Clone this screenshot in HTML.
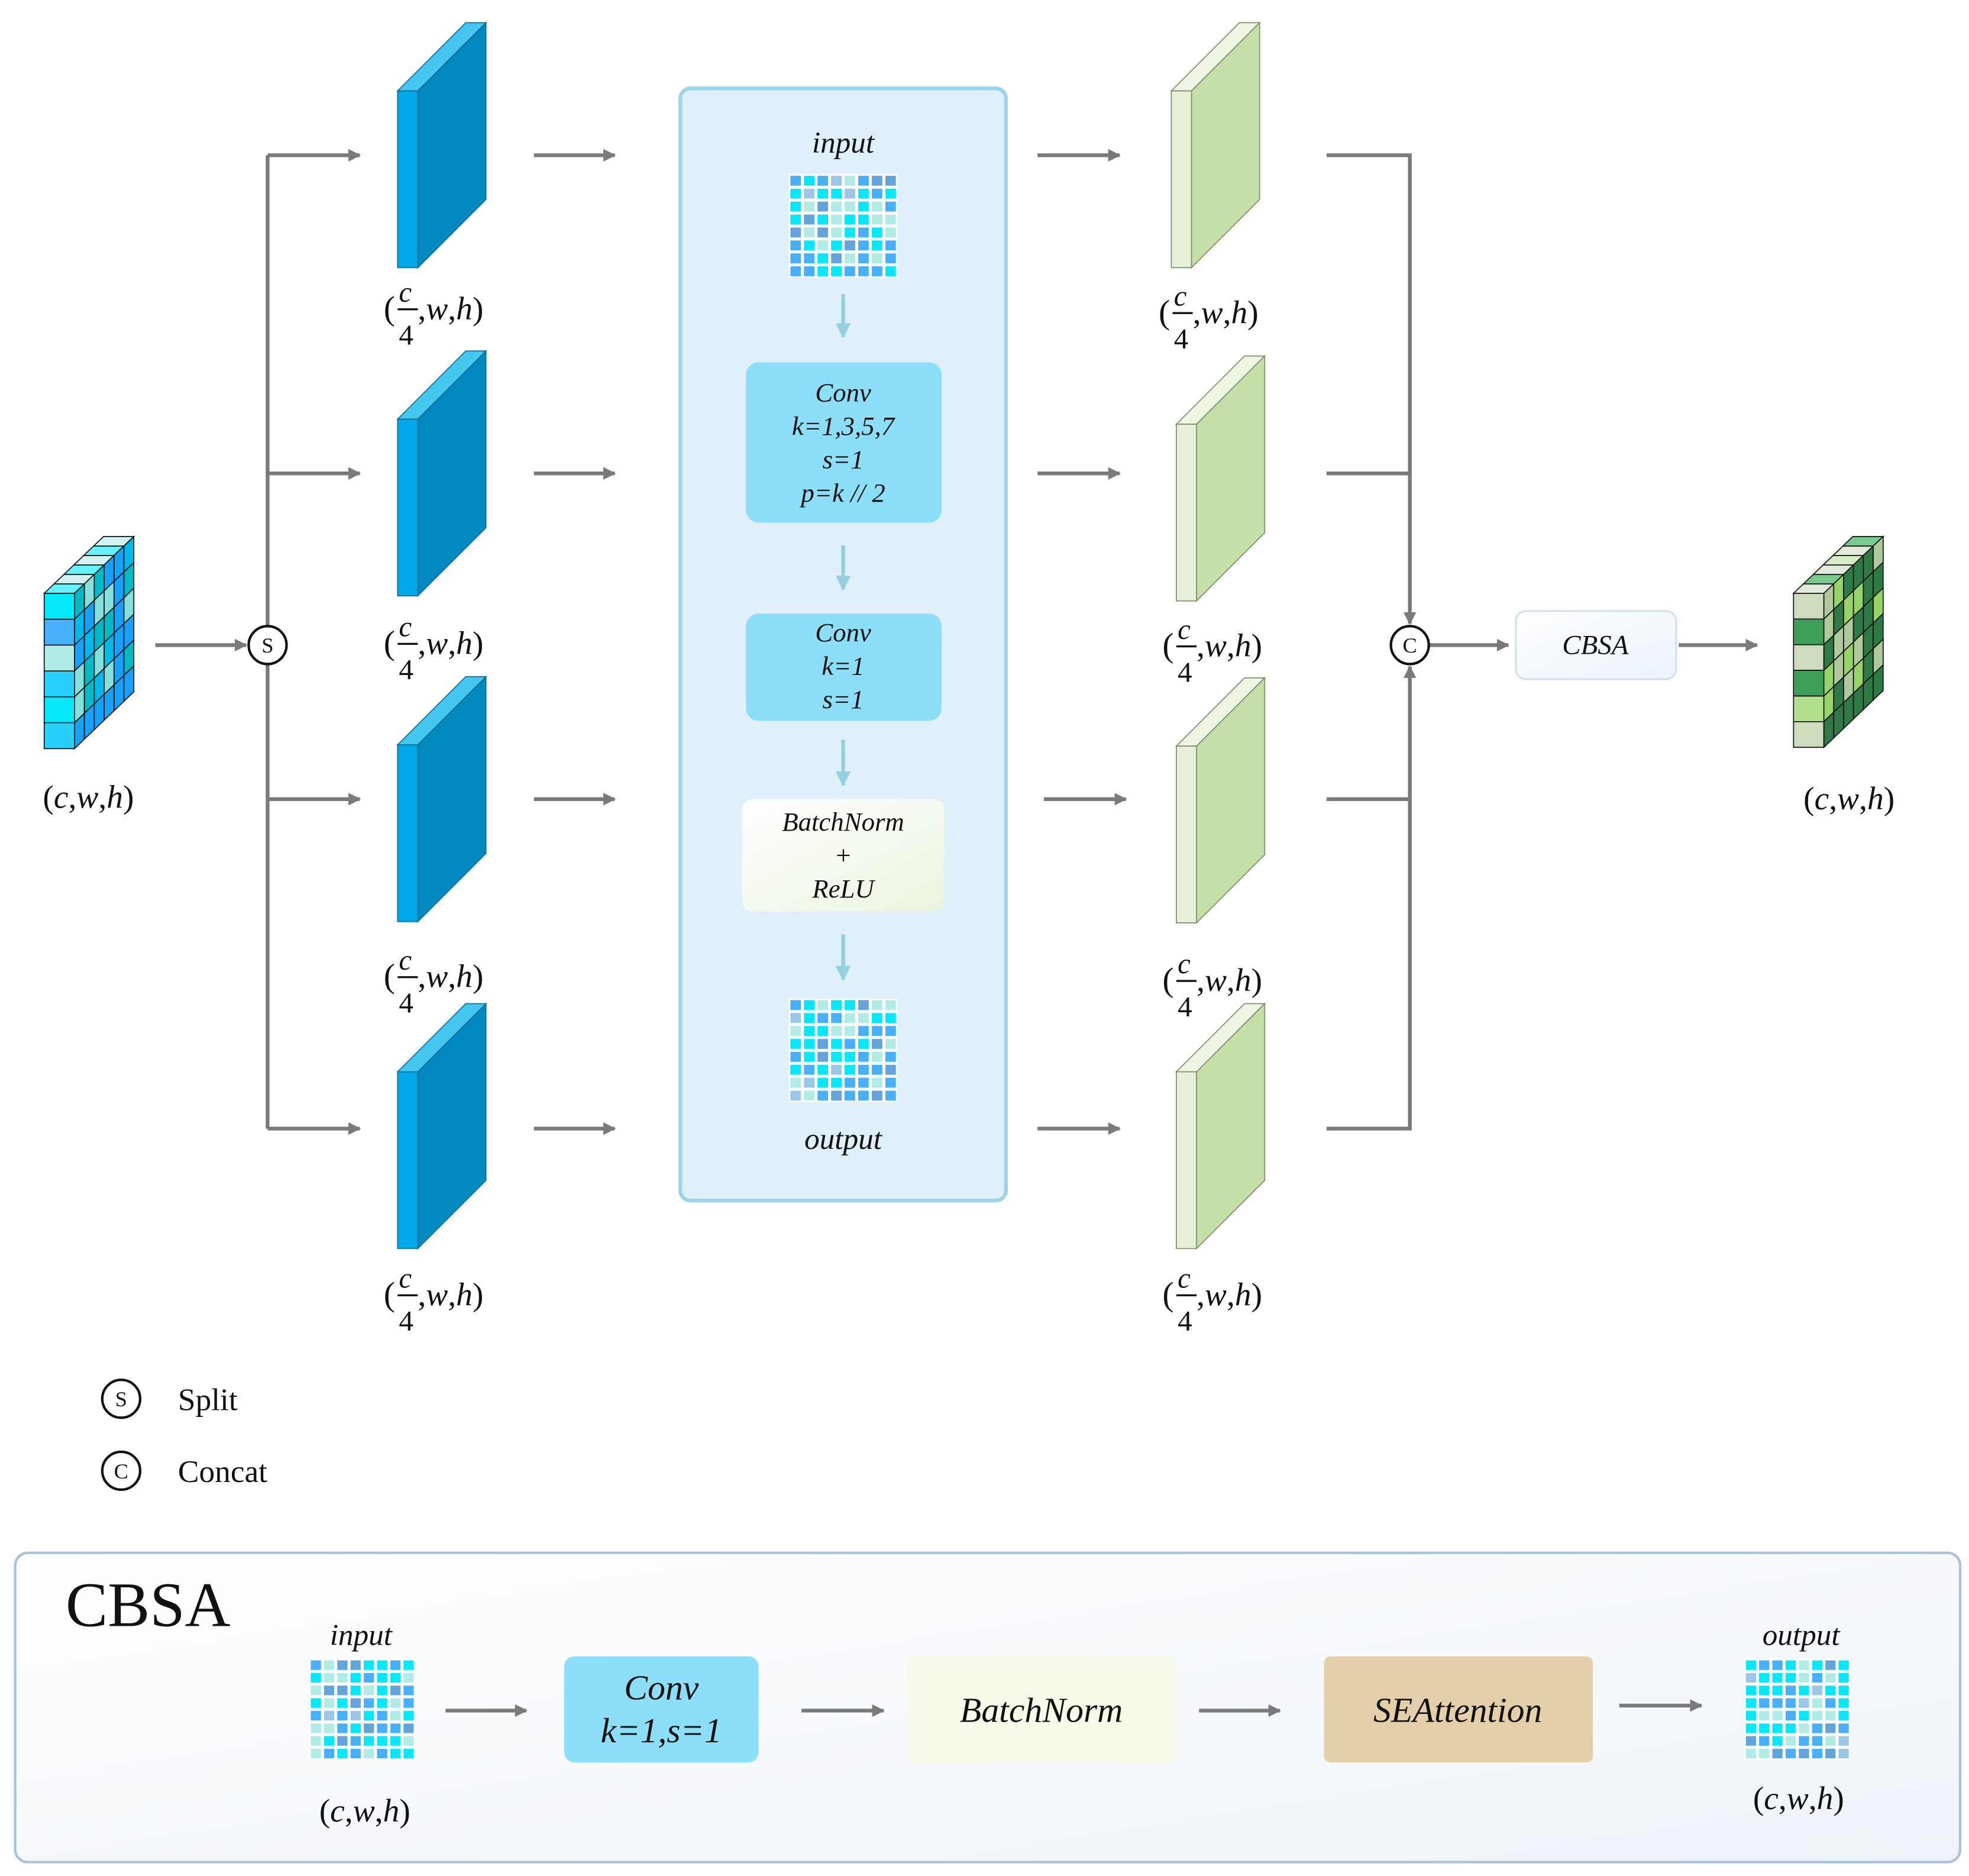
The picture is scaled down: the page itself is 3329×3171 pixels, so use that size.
<!DOCTYPE html>
<html><head><meta charset="utf-8"><style>
html,body{margin:0;padding:0;background:#fff;}
svg{display:block;}
text{font-family:"Liberation Serif",serif;fill:#111;}
.it{font-style:italic;}
</style></head><body>
<svg id="s" width="3329" height="3171" viewBox="0 0 1560 1486" xmlns="http://www.w3.org/2000/svg">
<defs>
<marker id="ag" markerWidth="10" markerHeight="10" refX="9" refY="5" orient="auto" markerUnits="userSpaceOnUse"><path d="M0,0 L10,5 L0,10 z" fill="#7a7a7a"/></marker>
<marker id="ab" markerWidth="12" markerHeight="14" refX="11" refY="7" orient="auto" markerUnits="userSpaceOnUse"><path d="M0,1 L12,7 L0,13 z" fill="#95cfe0"/></marker>
<linearGradient id="bn" x1="0" y1="0" x2="1" y2="1"><stop offset="0" stop-color="#ffffff"/><stop offset="1" stop-color="#eaf4de"/></linearGradient>
<linearGradient id="cb" x1="0" y1="0" x2="1" y2="1"><stop offset="0" stop-color="#ffffff"/><stop offset="1" stop-color="#eaf3fb"/></linearGradient>
<linearGradient id="bot" x1="0" y1="0" x2="1" y2="1"><stop offset="0" stop-color="#ffffff"/><stop offset="1" stop-color="#eef3f9"/></linearGradient>
</defs>
<rect x="12" y="1230" width="1541" height="245" rx="10" fill="url(#bot)" stroke="#a9c2dc" stroke-width="2"/>
<g id="g"></g>
<g stroke="#7a7a7a" stroke-width="3" fill="none">
<line x1="123" y1="511" x2="195" y2="511" marker-end="url(#ag)"/>
<line x1="212" y1="123" x2="212" y2="894"/>
<line x1="212" y1="123" x2="285" y2="123" marker-end="url(#ag)"/>
<line x1="212" y1="375" x2="285" y2="375" marker-end="url(#ag)"/>
<line x1="212" y1="633" x2="285" y2="633" marker-end="url(#ag)"/>
<line x1="212" y1="894" x2="285" y2="894" marker-end="url(#ag)"/>
<line x1="423" y1="123" x2="487" y2="123" marker-end="url(#ag)"/>
<line x1="423" y1="375" x2="487" y2="375" marker-end="url(#ag)"/>
<line x1="423" y1="633" x2="487" y2="633" marker-end="url(#ag)"/>
<line x1="423" y1="894" x2="487" y2="894" marker-end="url(#ag)"/>
<line x1="822" y1="123" x2="887" y2="123" marker-end="url(#ag)"/>
<line x1="822" y1="375" x2="887" y2="375" marker-end="url(#ag)"/>
<line x1="827" y1="633" x2="892" y2="633" marker-end="url(#ag)"/>
<line x1="822" y1="894" x2="887" y2="894" marker-end="url(#ag)"/>
<polyline points="1051,123 1117,123 1117,494" marker-end="url(#ag)"/>
<polyline points="1051,894 1117,894 1117,528" marker-end="url(#ag)"/>
<line x1="1051" y1="375" x2="1117" y2="375"/>
<line x1="1051" y1="633" x2="1117" y2="633"/>
<line x1="1132" y1="511" x2="1195" y2="511" marker-end="url(#ag)"/>
<line x1="1330" y1="511" x2="1392" y2="511" marker-end="url(#ag)"/>
<line x1="353" y1="1355" x2="417" y2="1355" marker-end="url(#ag)"/>
<line x1="635" y1="1355" x2="700" y2="1355" marker-end="url(#ag)"/>
<line x1="950" y1="1355" x2="1014" y2="1355" marker-end="url(#ag)"/>
<line x1="1283" y1="1351" x2="1348" y2="1351" marker-end="url(#ag)"/>
</g>
<g stroke="#111" stroke-width="2" fill="#fff">
<circle cx="212" cy="511" r="15"/><circle cx="1117" cy="511" r="15"/>
<circle cx="96" cy="1108" r="15"/><circle cx="96" cy="1165" r="15"/>
</g>
<g font-size="17" text-anchor="middle">
<text x="212" y="517">S</text><text x="1117" y="517">C</text>
<text x="96" y="1114">S</text><text x="96" y="1171">C</text>
</g>
<text x="141" y="1117" font-size="25">Split</text>
<text x="141" y="1174" font-size="25">Concat</text>
<rect x="1201" y="484" width="127" height="54" rx="8" fill="url(#cb)" stroke="#cfe1ea" stroke-width="1.5"/>
<text x="1264" y="518" font-size="22" class="it" text-anchor="middle">CBSA</text>
<text x="52" y="1288" font-size="50">CBSA</text>
<rect x="447" y="1312" width="154" height="84" rx="8" fill="#8ddff9"/>
<text x="524" y="1346" font-size="28" class="it" text-anchor="middle">Conv</text>
<text x="524" y="1380" font-size="28" class="it" text-anchor="middle">k=1,s=1</text>
<rect x="719" y="1312" width="212" height="84" rx="4" fill="#f5fae9"/>
<text x="825" y="1364" font-size="28" class="it" text-anchor="middle">BatchNorm</text>
<rect x="1049" y="1312" width="213" height="84" rx="5" fill="#e3cfaa"/>
<text x="1155" y="1364" font-size="28" class="it" text-anchor="middle">SEAttention</text>
<text x="286" y="1303" font-size="24" class="it" text-anchor="middle">input</text>
<text x="1427" y="1303" font-size="24" class="it" text-anchor="middle">output</text>
<text x="289" y="1443" font-size="26" text-anchor="middle">(<tspan class="it">c</tspan>,<tspan class="it">w</tspan>,<tspan class="it">h</tspan>)</text>
<text x="1425" y="1433" font-size="26" text-anchor="middle">(<tspan class="it">c</tspan>,<tspan class="it">w</tspan>,<tspan class="it">h</tspan>)</text>
<text x="70" y="640" font-size="26" text-anchor="middle">(<tspan class="it">c</tspan>,<tspan class="it">w</tspan>,<tspan class="it">h</tspan>)</text>
<text x="1465" y="641" font-size="26" text-anchor="middle">(<tspan class="it">c</tspan>,<tspan class="it">w</tspan>,<tspan class="it">h</tspan>)</text>
<g id="lab"></g>
</svg>
<script>
var NS="http://www.w3.org/2000/svg",g=document.getElementById('g'),lab=document.getElementById('lab');
function el(t,a,p){var e=document.createElementNS(NS,t);for(var k in a)e.setAttribute(k,a[k]);(p||g).appendChild(e);return e;}
function poly(pts,f,s,sw){return el('polygon',{points:pts.map(function(p){return p.join(',')}).join(' '),fill:f,stroke:s||'none','stroke-width':sw||0});}
function slab(x,y,w,h,dx,dy,cf,cs,ct,st){
 poly([[x,y],[x+w,y],[x+w+dx,y-dy],[x+dx,y-dy]],ct,st,0.8);
 poly([[x+w,y],[x+w+dx,y-dy],[x+w+dx,y+h-dy],[x+w,y+h]],cs,st,0.8);
 poly([[x,y],[x+w,y],[x+w,y+h],[x,y+h]],cf,st,0.8);
}
var cb=el('rect',{x:539,y:70,width:258,height:881,rx:8,fill:'#dff0fb',stroke:'#9fd3e6','stroke-width':3});
[72,332,590,849].forEach(function(y){slab(315,y,16,140,54,54,'#00a8e8','#0088bf','#45c8f0','#0a6f99');});
[[928,72],[932,336],[932,591],[932,849]].forEach(function(p){slab(p[0],p[1],16,140,54,54,'#e6f0d6','#c6dea8','#eef5e3','#7f8f6e');});
function txt(x,y,s,sz,c){var t=el('text',{x:x,y:y,'font-size':sz,'text-anchor':'middle','class':c||''},lab);t.textContent=s;return t;}
txt(668,121,'input',24,'it');txt(668,910,'output',24,'it');
el('rect',{x:591,y:287,width:155,height:127,rx:10,fill:'#8ddff9'});
['Conv','k=1,3,5,7','s=1','p=k // 2'].forEach(function(s,i){txt(668,318+i*26.5,s,21,'it');});
el('rect',{x:591,y:486,width:155,height:85,rx:10,fill:'#8ddff9'});
['Conv','k=1','s=1'].forEach(function(s,i){txt(668,508+i*26.5,s,21,'it');});
el('rect',{x:588,y:633,width:160,height:89,rx:8,fill:'url(#bn)'});
['BatchNorm','+','ReLU'].forEach(function(s,i){txt(668,658+i*26.5,s,21,'it');});
[[233,267],[432,467],[586,622],[740,776]].forEach(function(a){el('line',{x1:668,y1:a[0],x2:668,y2:a[1],stroke:'#95cfe0','stroke-width':3,'marker-end':'url(#ab)'});});
var pal=['#06e8fa','#48b0fb','#b0ebe6','#63a4da','#9cc6e6'];
var seed=7;function rnd(){seed=(seed*1103515245+12345)%2147483648;return seed/2147483648;}
function grid(x,y,w,h){el('rect',{x:x,y:y,width:w,height:h,fill:'#fff'});var cw=w/8,ch=h/8;
 for(var r=0;r<8;r++)for(var c=0;c<8;c++){var v=rnd();var col=v<0.32?pal[0]:v<0.6?pal[1]:v<0.82?pal[2]:v<0.93?pal[3]:pal[4];
 el('rect',{x:x+c*cw+1.2,y:y+r*ch+1.2,width:cw-2.4,height:ch-2.4,fill:col});}}
grid(625,138,86,82);grid(625,791,86,82);grid(245,1314,84,80);grid(1382,1314,84,80);
function cube(x0,y0,fw,fh,dx,dy,n,m,front,side,top){
 var rh=fh/n;var sx=dx/m,sy=dy/m;
 for(var k=0;k<m;k++){poly([[x0+k*sx,y0-k*sy],[x0+fw+k*sx,y0-k*sy],[x0+fw+(k+1)*sx,y0-(k+1)*sy],[x0+(k+1)*sx,y0-(k+1)*sy]],top[k%top.length],'#111',0.8);}
 for(var k=0;k<m;k++)for(var r=0;r<n;r++){var X=x0+fw+k*sx,Y=y0-k*sy+r*rh;
  poly([[X,Y],[X+sx,Y-sy],[X+sx,Y-sy+rh],[X,Y+rh]],side[(r*3+k*2+k*r)%side.length],'#111',0.8);}
 for(var r=0;r<n;r++)poly([[x0,y0+r*rh],[x0+fw,y0+r*rh],[x0+fw,y0+(r+1)*rh],[x0,y0+(r+1)*rh]],front[r],'#111',0.8);
}
cube(35,470,24,123,47,45,6,6,['#06e8fa','#48b0fb','#b0ebe6','#29d0fb','#06e8fa','#29d0fb'],['#02b9c5','#18a1fb','#83e0dc','#00b8ea','#02b9c5','#83e0dc','#18a1fb'],['#64f2fd','#d0f4f2']);
cube(1421,470,24,122,47,45,6,6,['#ccdcbd','#3f9f59','#ccdcbd','#3f9f59','#b3e08f','#ccdcbd'],['#b0c99a','#2f7a44','#96d467','#b0c99a','#2f7a44','#96d467','#2f7a44'],['#e1e9da','#79c98e','#e1e9da','#d5ecc6']);
function frac(x,y){
 var t=el('text',{x:x,y:y,'font-size':27},lab);t.textContent='(';
 var c=el('text',{x:x+12,y:y-14,'font-size':23,'class':'it'},lab);c.textContent='c';
 el('line',{x1:x+11,y1:y-8,x2:x+27,y2:y-8,stroke:'#111','stroke-width':1.6},lab);
 var f=el('text',{x:x+12,y:y+20,'font-size':23},lab);f.textContent='4';
 var r=el('text',{x:x+27,y:y,'font-size':26},lab);r.innerHTML=',<tspan class="it">w</tspan>,<tspan class="it">h</tspan>)';
}
[[304,253],[304,518],[304,782],[304,1034]].forEach(function(p){frac(p[0],p[1]);});
[[918,256],[921,520],[921,785],[921,1034]].forEach(function(p){frac(p[0],p[1]);});
</script>
</body></html>
